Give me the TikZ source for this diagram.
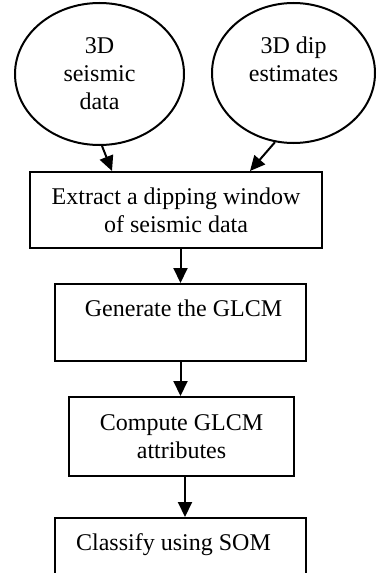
\documentclass[tikz,border=0pt]{standalone}
\usepackage{fontspec}
\setmainfont{Liberation Serif}
\usetikzlibrary{shapes.geometric,arrows.meta}
\begin{document}
\begin{tikzpicture}[x=0.5pt,y=-0.5pt,
  every node/.style={font=\fontsize{12pt}{14pt}\selectfont, align=center, inner sep=0pt, line width=1pt},
  source/.style={draw, ellipse},
  stepbox/.style={draw, rectangle},
  arr/.style={line width=1pt, -{Triangle[length=7.5pt,width=7pt]}}]
\clip (0,0) rectangle (376,573);
\fill[white] (0,0) rectangle (376,573);

% input data
\node[source, minimum width=84.5pt, minimum height=71pt] (e1) at (99.5,74) {3D\\seismic\\data};
\node[source, minimum width=81.5pt, minimum height=70pt] (e2) at (293.5,73) {3D dip\\estimates\\\mbox{}};

% processing steps
\node[stepbox, minimum width=146pt, minimum height=38pt] (b1) at (176,210) {Extract a dipping window\\of seismic data};
\node[stepbox, minimum width=125.5pt, minimum height=38.5pt] (b2) at (180.5,322.5) {\hspace*{3pt}Generate the GLCM\\\mbox{}};
\node[stepbox, minimum width=112.5pt, minimum height=39.5pt] (b3) at (181.5,436.5) {Compute GLCM\\attributes};
\node[stepbox, minimum width=125.5pt, minimum height=38.5pt] (b4) at (180.5,556.5) {Classify using SOM\hspace*{7pt}\\\mbox{}};

% flow
\draw[arr] (e1.-88) -- ([xshift=-32pt]b1.north);
\draw[arr] (e2.255) -- ([xshift=37pt]b1.north);
\draw[arr] (b1.south -| b2.north) -- (b2.north);
\draw[arr] (b2.south) -- (b3.north -| b2.south);
\draw[arr] ([xshift=1.75pt]b3.south) -- ([xshift=1.75pt]b3.south |- b4.north);
\end{tikzpicture}
\end{document}
